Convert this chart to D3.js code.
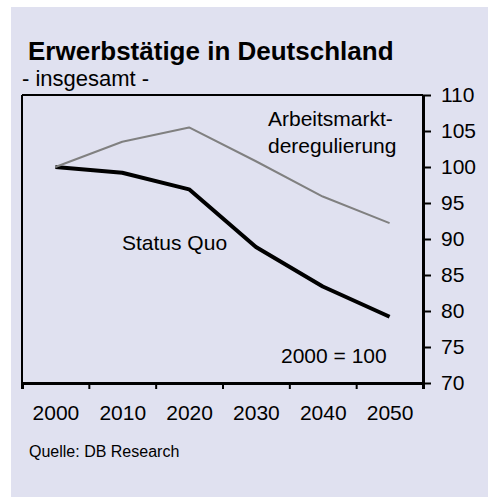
<!DOCTYPE html>
<html lang="de">
<head>
    <meta charset="UTF-8">
    <title>Erwerbstätige in Deutschland</title>
    <script src="https://cdnjs.cloudflare.com/ajax/libs/d3/7.8.5/d3.min.js"></script>
    <style>
        body {
            margin: 0;
            background: #ffffff;
            font-family: Arial, "Liberation Sans", sans-serif;
        }
        .axis text {
            font-family: Arial, "Liberation Sans", sans-serif;
            font-size: 21px;
            fill: #000;
        }
        .axis line, .axis path {
            stroke: #000;
        }
        .label {
            font-size: 21px;
        }
    </style>
</head>
<body>
    <div id="chart"></div>

    <script>
        // Data (index, 2000 = 100)
        const years = [2000, 2010, 2020, 2030, 2040, 2050];
        const statusQuo = [100, 99.2, 96.9, 88.9, 83.4, 79.2];
        const deregulierung = [100, 103.5, 105.5, 100.8, 95.9, 92.2];
        const yTicks = [70, 75, 80, 85, 90, 95, 100, 105, 110];

        const W = 488, H = 497;
        const plot = {left: 22, right: 423, top: 95, bottom: 383};

        const svg = d3.select("#chart")
            .append("svg")
            .attr("width", W)
            .attr("height", H);

        // Lavender panel
        svg.append("rect")
            .attr("x", 11)
            .attr("y", 7)
            .attr("width", W - 11)
            .attr("height", H - 7)
            .attr("fill", "#e0e1f0");

        // Scales: years sit in the middle of 10-year bands
        const x = d3.scaleLinear()
            .domain([1995, 2055])
            .range([plot.left, plot.right]);

        const y = d3.scaleLinear()
            .domain([70, 110])
            .range([plot.bottom, plot.top]);

        // Title and subtitle
        svg.append("text")
            .attr("x", 28)
            .attr("y", 60)
            .attr("font-size", 26)
            .attr("font-weight", "bold")
            .text("Erwerbstätige in Deutschland");

        svg.append("text")
            .attr("x", 22)
            .attr("y", 86)
            .attr("font-size", 22)
            .text("- insgesamt -");

        // Frame: top and left
        svg.append("line")
            .attr("x1", plot.left).attr("x2", plot.right)
            .attr("y1", plot.top).attr("y2", plot.top)
            .attr("stroke", "#000").attr("stroke-width", 2);

        svg.append("line")
            .attr("x1", plot.left).attr("x2", plot.left)
            .attr("y1", plot.top).attr("y2", plot.bottom)
            .attr("stroke", "#000").attr("stroke-width", 2);

        // Bottom axis: tick marks at band edges
        const edges = d3.range(1995, 2056, 10);
        svg.append("g")
            .attr("class", "axis")
            .attr("transform", `translate(0,${plot.bottom})`)
            .call(d3.axisBottom(x)
                .tickValues(edges)
                .tickSize(6)
                .tickFormat(""))
            .call(g => g.selectAll("line").attr("stroke-width", 2))
            .call(g => g.select(".domain").attr("stroke-width", 3));

        // Bottom axis labels at band centers
        svg.append("g")
            .attr("class", "axis")
            .attr("transform", `translate(0,${plot.bottom})`)
            .call(d3.axisBottom(x)
                .tickValues(years)
                .tickSize(0)
                .tickPadding(22)
                .tickFormat(d3.format("d")))
            .call(g => g.select(".domain").remove());

        // Right axis
        svg.append("g")
            .attr("class", "axis")
            .attr("transform", `translate(${plot.right},0)`)
            .call(d3.axisRight(y)
                .tickValues(yTicks)
                .tickSize(8)
                .tickSizeOuter(0)
                .tickPadding(10))
            .call(g => g.selectAll("line").attr("stroke-width", 2))
            .call(g => g.select(".domain").attr("stroke-width", 3));

        // Lines
        const line = d3.line()
            .x((d, i) => x(years[i]))
            .y(d => y(d));

        svg.append("path")
            .datum(statusQuo)
            .attr("fill", "none")
            .attr("stroke", "#000")
            .attr("stroke-width", 4)
            .attr("stroke-linejoin", "round")
            .attr("d", line);

        svg.append("path")
            .datum(deregulierung)
            .attr("fill", "none")
            .attr("stroke", "#808080")
            .attr("stroke-width", 2)
            .attr("stroke-linejoin", "round")
            .attr("d", line);

        // Series labels
        svg.append("text")
            .attr("class", "label")
            .attr("x", 268)
            .attr("y", 126)
            .text("Arbeitsmarkt-");

        svg.append("text")
            .attr("class", "label")
            .attr("x", 268)
            .attr("y", 153)
            .text("deregulierung");

        svg.append("text")
            .attr("class", "label")
            .attr("x", 122)
            .attr("y", 250)
            .text("Status Quo");

        svg.append("text")
            .attr("class", "label")
            .attr("x", 281)
            .attr("y", 363)
            .text("2000 = 100");

        // Source
        svg.append("text")
            .attr("x", 29)
            .attr("y", 457)
            .attr("font-size", 16)
            .text("Quelle: DB Research");
    </script>
</body>
</html>
